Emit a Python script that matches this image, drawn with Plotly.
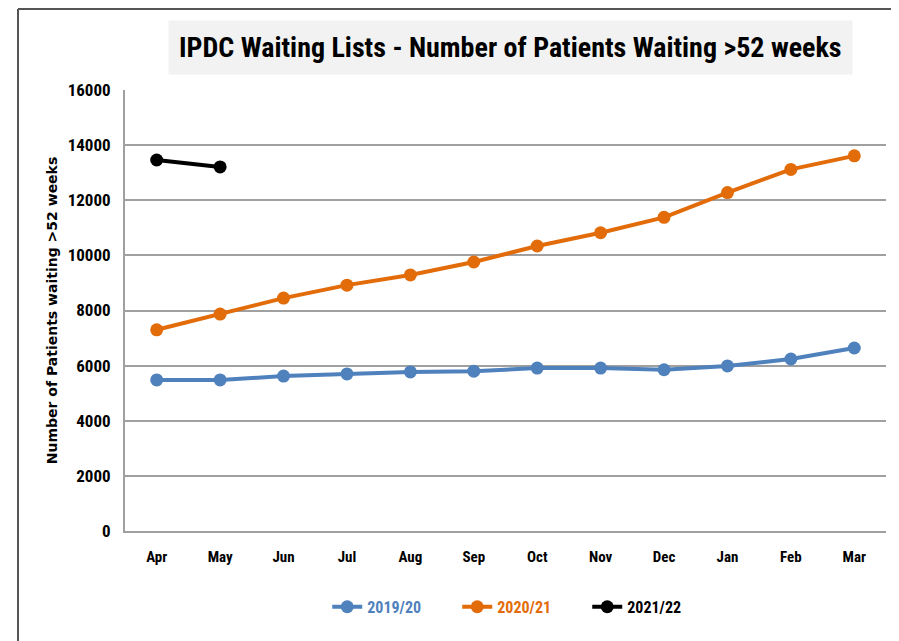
import plotly.graph_objects as go

months = ['Apr', 'May', 'Jun', 'Jul', 'Aug', 'Sep', 'Oct', 'Nov', 'Dec', 'Jan', 'Feb', 'Mar']
y2019 = [5480, 5480, 5620, 5700, 5770, 5800, 5910, 5910, 5850, 5990, 6240, 6640]
y2020 = [7300, 7870, 8450, 8920, 9290, 9760, 10340, 10820, 11380, 12280, 13120, 13610]
y2021 = [13460, 13210]
y_ticks = [0, 2000, 4000, 6000, 8000, 10000, 12000, 14000, 16000]

series = [
    ('2019/20', months, y2019, '#4f81bd'),
    ('2020/21', months, y2020, '#e36c0a'),
    ('2021/22', months[:len(y2021)], y2021, '#000000'),
]

fig = go.Figure()
for name, xs, ys, col in series:
    fig.add_trace(go.Scatter(
        x=xs, y=ys, mode='lines+markers',
        name=f"<span style='color:{col}'><b>{name}</b></span>",
        line=dict(color=col, width=4),
        marker=dict(color=col, size=13),
    ))

font_cond = "Liberation Sans Narrow, Arial Narrow, Roboto Condensed, sans-serif"

# page body has an 8px margin, so the margins are shifted to compensate
fig.update_layout(
    width=899, height=641,
    margin=dict(l=117, r=21, t=82, b=118, autoexpand=False),
    paper_bgcolor='white', plot_bgcolor='white',
    showlegend=True,
    legend=dict(orientation='h', x=0.522, xanchor='center', y=-0.172, yanchor='middle',
                font=dict(family=font_cond, size=16, color='black'),
                itemwidth=30, entrywidth=85, tracegroupgap=0),
    annotations=[dict(
        text='<b>IPDC Waiting Lists - Number of Patients Waiting >52 weeks</b>',
        xref='paper', yref='paper', x=0.506, y=1.0975, xanchor='center', yanchor='middle',
        showarrow=False, bgcolor='#f2f2f2', borderpad=10,
        font=dict(family=font_cond, size=28, color='black'),
    )],
    shapes=[
        dict(type='line', xref='paper', yref='paper', x0=-0.1406, x1=-0.1406, y0=-0.26, y1=1.1837,
             line=dict(color='#555', width=2)),
        dict(type='line', xref='paper', yref='paper', x0=-0.1406, x1=1.02, y0=1.1837, y1=1.1837,
             line=dict(color='#555', width=2)),
    ],
)

fig.update_xaxes(
    type='category', categoryorder='array', categoryarray=months,
    range=[-0.5, len(months) - 0.5],
    tickvals=months, ticktext=[f'<b>{m}</b>' for m in months],
    showgrid=False, showline=True, linecolor='#a0a0a0', linewidth=2,
    ticks='', tickfont=dict(family=font_cond, size=15, color='black'),
    ticklabelstandoff=11, automargin=False,
)
fig.update_yaxes(
    range=[0, 16000], tickvals=y_ticks, ticktext=[f'<b>{v}</b>' for v in y_ticks],
    showgrid=True, gridcolor='#a0a0a0', gridwidth=1.5,
    showline=True, linecolor='#a0a0a0', linewidth=2,
    zeroline=False, ticks='',
    tickfont=dict(family=font_cond, size=17, color='black'),
    ticklabelstandoff=9, automargin=False,
    title=dict(text='<b>Number of Patients waiting >52 weeks</b>',
               font=dict(family='DejaVu Sans, Verdana, sans-serif', size=14, color='black'),
               standoff=7),
)

fig.write_html("out.html")
